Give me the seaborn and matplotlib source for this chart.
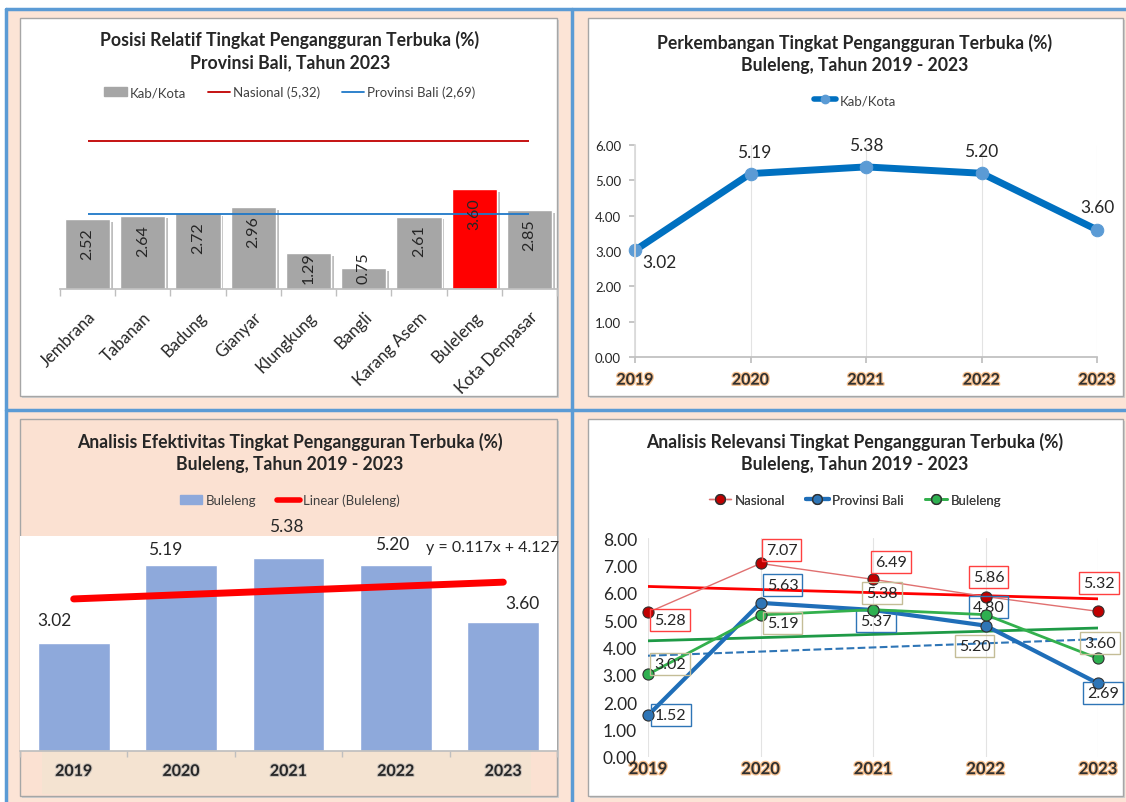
import numpy as np
import pandas as pd
import seaborn as sns
import matplotlib.pyplot as plt
import matplotlib.patheffects as pe
from matplotlib.patches import Rectangle, Patch
from matplotlib.lines import Line2D

# Data TPT (%)
kab_kota = ["Jembrana", "Tabanan", "Badung", "Gianyar", "Klungkung", "Bangli",
            "Karang Asem", "Buleleng", "Kota Denpasar"]
tpt_2023 = [2.52, 2.64, 2.72, 2.96, 1.29, 0.75, 2.61, 3.60, 2.85]
tpt_nasional_2023 = 5.32
tpt_bali_2023 = 2.69

tahun = [2019, 2020, 2021, 2022, 2023]
buleleng = [3.02, 5.19, 5.38, 5.20, 3.60]
nasional = [5.28, 7.07, 6.49, 5.86, 5.32]
prov_bali = [1.52, 5.63, 5.37, 4.80, 2.69]

W, H = 1126, 803
sns.set_theme(style="white")
plt.rcParams["font.family"] = ["Lato", "DejaVu Sans"]

PEACH = "#FCE4D6"
FRAME = "#A6A6A6"
TEKS = "#262626"
glow = [pe.withStroke(linewidth=1.8, foreground="#F6C08E")]

fig = plt.figure(figsize=(W / 100, H / 100), dpi=100)
fig.patch.set_facecolor("white")
bg = fig.add_axes([0, 0, 1, 1], zorder=-10)
bg.set_xlim(0, W)
bg.set_ylim(H, 0)
bg.axis("off")


def box(x0, y0, x1, y1):
    # posisi dalam piksel -> koordinat figure
    return [x0 / W, 1 - y1 / H, (x1 - x0) / W, (y1 - y0) / H]


# latar peach + garis biru
bg.add_patch(Rectangle((6, 10), W - 6, H - 10, fc=PEACH, ec="none"))
for x in [6, 572]:
    bg.plot([x, x], [10, H], color="#5B9BD5", lw=2.5)
for y in [10, 411]:
    bg.plot([6, W], [y, y], color="#5B9BD5", lw=2.5)

# bingkai tiap grafik
bingkai = [(20, 19, 557, 397, "white"), (588, 19, 1123, 397, "white"),
           (20, 420, 557, 797, "#FBE1D2"), (588, 420, 1123, 797, "white")]
for x0, y0, x1, y1, fc in bingkai:
    bg.add_patch(Rectangle((x0 + 2, y0 + 2), x1 - x0, y1 - y0, fc="#D0D0D0", ec="none"))
    bg.add_patch(Rectangle((x0, y0), x1 - x0, y1 - y0, fc=fc, ec=FRAME, lw=1))


def judul(xc, y, baris1, baris2):
    bg.text(xc, y, baris1, ha="center", va="center", fontsize=12.7, fontweight="bold", color=TEKS)
    bg.text(xc, y + 23, baris2, ha="center", va="center", fontsize=12.7, fontweight="bold", color=TEKS)


def legenda(handles, labels, xc, yc):
    leg = bg.legend(handles, labels, loc="center", bbox_to_anchor=(xc, yc), bbox_transform=bg.transData,
                    ncol=len(labels), frameon=False, fontsize=9.5, handlelength=1.7,
                    handletextpad=0.25, columnspacing=1.6, labelcolor="#404040")
    bg.add_artist(leg)


# ---------- 1. Posisi relatif ----------
judul(290, 40, "Posisi Relatif Tingkat Pengangguran Terbuka (%)", "Provinsi Bali, Tahun 2023")
ax1 = fig.add_axes(box(60, 115, 557, 290))
ax1.set_facecolor("none")
df1 = pd.DataFrame({"kab": kab_kota, "tpt": tpt_2023})
warna1 = ["#FF0000" if k == "Buleleng" else "#A6A6A6" for k in kab_kota]
sns.barplot(data=df1, x="kab", y="tpt", hue="kab", palette=warna1, legend=False,
            width=0.82, saturation=1, ax=ax1)
for p in ax1.patches:
    p.set_path_effects([pe.SimplePatchShadow(offset=(2, -2), shadow_rgbFace="#7F7F7F", alpha=0.5), pe.Normal()])
ax1.hlines(tpt_nasional_2023, 0, len(kab_kota) - 1, color="#C00000", lw=1.3)
ax1.hlines(tpt_bali_2023, 0, len(kab_kota) - 1, color="#1F78C8", lw=1.3)
for i, v in enumerate(tpt_2023):
    # label di ujung dalam batang, digeser naik bila batang terlalu pendek
    ax1.annotate(f"{v:.2f}", (i, max(v - 0.29, 1.37)), rotation=90,
                 ha="center", va="top", fontsize=11.5, color=TEKS)
ax1.set_xlim(-0.5, 8.45)
ax1.set_ylim(0, 6.3)
ax1.set_yticks([])
ax1.set_xlabel("")
ax1.set_ylabel("")
ax1.set_xticks(range(len(kab_kota)))
ax1.set_xticklabels(kab_kota, rotation=45, ha="right", rotation_mode="anchor", fontsize=12, color=TEKS)
ax1.set_xticks(np.arange(-0.5, 9, 1), minor=True)
ax1.tick_params(axis="x", which="major", length=0, pad=14)
ax1.tick_params(axis="x", which="minor", length=5, color="#BFBFBF", bottom=True)
for s in ["left", "right", "top"]:
    ax1.spines[s].set_visible(False)
ax1.spines["bottom"].set_color("#BFBFBF")
legenda([Patch(color="#A6A6A6"), Line2D([], [], color="#C00000", lw=1.3), Line2D([], [], color="#1F78C8", lw=1.3)],
        ["Kab/Kota", "Nasional (5,32)", "Provinsi Bali (2,69)"], 290, 93)

# ---------- 2. Perkembangan ----------
judul(855, 43, "Perkembangan Tingkat Pengangguran Terbuka (%)", "Buleleng, Tahun 2019 - 2023")
ax2 = fig.add_axes(box(635, 146, 1097, 358))
ax2.set_facecolor("none")
df2 = pd.DataFrame({"tahun": tahun, "nilai": buleleng})
sns.lineplot(data=df2, x="tahun", y="nilai", ax=ax2, color="#0070C0", lw=5, marker="o", markersize=9,
             markerfacecolor="#5B9BD5", markeredgecolor="#5B9BD5", clip_on=False)
off2 = [(24, -12), (4, 22), (0, 22), (0, 22), (0, 23)]
for x, v, (dx, dy) in zip(tahun, buleleng, off2):
    ax2.annotate(f"{v:.2f}", (x, v), xytext=(dx, dy), textcoords="offset pixels",
                 ha="center", va="center", fontsize=12.5, color=TEKS)
ax2.set_xlim(2019, 2023)
ax2.set_ylim(0, 6)
ax2.set_yticks(range(7))
ax2.set_yticklabels([f"{v:.2f}" for v in range(7)], fontsize=9.5, color=TEKS)
ax2.set_xticks(tahun)
ax2.set_xticklabels([str(t) for t in tahun], fontsize=11.5, fontweight="bold", color="#303030")
for t in ax2.get_xticklabels():
    t.set_path_effects(glow)
ax2.grid(axis="x", color="#E3E3E3", lw=0.8)
ax2.grid(axis="y", visible=False)
ax2.tick_params(axis="both", length=4, color="#BFBFBF", bottom=True, left=True)
ax2.tick_params(axis="x", pad=8)
ax2.tick_params(axis="y", pad=6)
for s in ["right", "top"]:
    ax2.spines[s].set_visible(False)
ax2.spines["bottom"].set_color("#BFBFBF")
ax2.spines["left"].set_color("#D9D9D9")
ax2.set_xlabel("")
ax2.set_ylabel("")
legenda([Line2D([], [], color="#0070C0", lw=4, marker="o", markersize=6, mfc="#5B9BD5", mec="#5B9BD5")],
        ["Kab/Kota"], 855, 101)

# ---------- 3. Efektivitas ----------
judul(290, 442, "Analisis Efektivitas Tingkat Pengangguran Terbuka (%)", "Buleleng, Tahun 2019 - 2023")
bg.add_patch(Rectangle((42, 752), 489, 43, fc="#F4E3D1", ec="none"))
ax3 = fig.add_axes(box(20, 537, 557, 752))
ax3.set_facecolor("white")
df3 = pd.DataFrame({"tahun": [str(t) for t in tahun], "nilai": buleleng})
sns.barplot(data=df3, x="tahun", y="nilai", color="#8EA9DB", width=0.67, saturation=1, ax=ax3)
koef3 = np.polyfit(np.arange(1, 6), buleleng, 1)
ax3.plot(range(5), np.polyval(koef3, np.arange(1, 6)), color="#FF0000", lw=5, solid_capstyle="round")
off3 = [(-19, 23), (-16, 16), (-2, 32), (-4, 21), (19, 19)]
for i, (v, (dx, dy)) in enumerate(zip(buleleng, off3)):
    ax3.annotate(f"{v:.2f}", (i, v), xytext=(dx, dy), textcoords="offset pixels", ha="center",
                 va="center", fontsize=12.5, color=TEKS, annotation_clip=False)
fig.text(493, 548, f"y = {koef3[0]:.3f}x + {koef3[1]:.3f}", transform=bg.transData,
         ha="center", va="center", fontsize=11.5, color=TEKS)
ax3.set_xlim(-0.5, 4.5)
ax3.set_ylim(0, 6)
ax3.set_yticks([])
ax3.set_xlabel("")
ax3.set_ylabel("")
ax3.set_xticks(range(5))
ax3.set_xticklabels([str(t) for t in tahun], fontsize=11.5, fontweight="bold", color=TEKS)
for t in ax3.get_xticklabels():
    t.set_path_effects([pe.withStroke(linewidth=1.5, foreground="#C8C0B8")])
ax3.set_xticks(np.arange(-0.5, 5, 1), minor=True)
ax3.tick_params(axis="x", which="major", length=0, pad=10)
ax3.tick_params(axis="x", which="minor", length=4, color="#BFBFBF", bottom=True)
for s in ["left", "right", "top"]:
    ax3.spines[s].set_visible(False)
ax3.spines["bottom"].set_color("#BFBFBF")
legenda([Patch(color="#8EA9DB"), Line2D([], [], color="#FF0000", lw=4)],
        ["Buleleng", "Linear (Buleleng)"], 290, 501)

# ---------- 4. Relevansi ----------
judul(855, 442, "Analisis Relevansi Tingkat Pengangguran Terbuka (%)", "Buleleng, Tahun 2019 - 2023")
ax4 = fig.add_axes(box(648, 539, 1098, 758))
ax4.set_facecolor("none")
# nama, nilai, warna garis, tebal, warna marker, warna tren, gaya tren, warna kotak label
seri = [
    ("Nasional", nasional, "#E07070", 1.0, "#C00000", "#FF0000", "-", "#FF4040"),
    ("Provinsi Bali", prov_bali, "#1F6EB8", 3.0, "#2E75B6", "#2E75B6", "--", "#2E75B6"),
    ("Buleleng", buleleng, "#33B04D", 2.0, "#2EB050", "#1E9A46", "-", "#C4BD97"),
]
off4 = {
    "Nasional": [(22, -8), (21, 13), (18, 17), (3, 20), (1, 28)],
    "Provinsi Bali": [(23, 0), (22, 18), (3, -11), (3, 19), (5, -10)],
    "Buleleng": [(22, 10), (22, -8), (9, 17), (-11, -31), (2, 15)],
}
x4 = np.arange(1, 6)
for nama, nilai, warna, lw, mk, wtren, gaya, wkotak in seri:
    koef = np.polyfit(x4, nilai, 1)
    ax4.plot(tahun, np.polyval(koef, x4), color=wtren, lw=2 if gaya == "-" else 1.5, ls=gaya, zorder=2)
    sns.lineplot(x=tahun, y=nilai, ax=ax4, color=warna, lw=lw, marker="o", markersize=8,
                 markerfacecolor=mk, markeredgecolor="#303030", markeredgewidth=0.8, clip_on=False, zorder=3)
    for x, v, (dx, dy) in zip(tahun, nilai, off4[nama]):
        ax4.annotate(f"{v:.2f}", (x, v), xytext=(dx, dy), textcoords="offset pixels", ha="center",
                     va="center", fontsize=11.5, color=TEKS, annotation_clip=False,
                     bbox=dict(boxstyle="square,pad=0.25", fc="none", ec=wkotak, lw=1))
ax4.set_xlim(2019, 2023)
ax4.set_ylim(0, 8)
ax4.set_yticks(range(9))
ax4.set_yticklabels([f"{v:.2f}" for v in range(9)], fontsize=12.5, color=TEKS)
ax4.set_xticks(tahun)
ax4.set_xticklabels([str(t) for t in tahun], fontsize=12, fontweight="bold", color="#303030")
for t in ax4.get_xticklabels():
    t.set_path_effects(glow)
ax4.grid(axis="x", color="#E3E3E3", lw=0.8)
ax4.grid(axis="y", visible=False)
ax4.tick_params(axis="both", length=0)
ax4.tick_params(axis="y", pad=8)
ax4.tick_params(axis="x", pad=3)
for s in ["left", "right", "top", "bottom"]:
    ax4.spines[s].set_visible(False)
ax4.set_xlabel("")
ax4.set_ylabel("")
legenda([Line2D([], [], color="#E07070", lw=1, marker="o", markersize=7, mfc="#C00000", mec="#303030"),
         Line2D([], [], color="#1F6EB8", lw=3, marker="o", markersize=7, mfc="#2E75B6", mec="#303030"),
         Line2D([], [], color="#33B04D", lw=2, marker="o", markersize=7, mfc="#2EB050", mec="#303030")],
        ["Nasional", "Provinsi Bali", "Buleleng"], 855, 501)

fig.savefig("out.png", dpi=100)
